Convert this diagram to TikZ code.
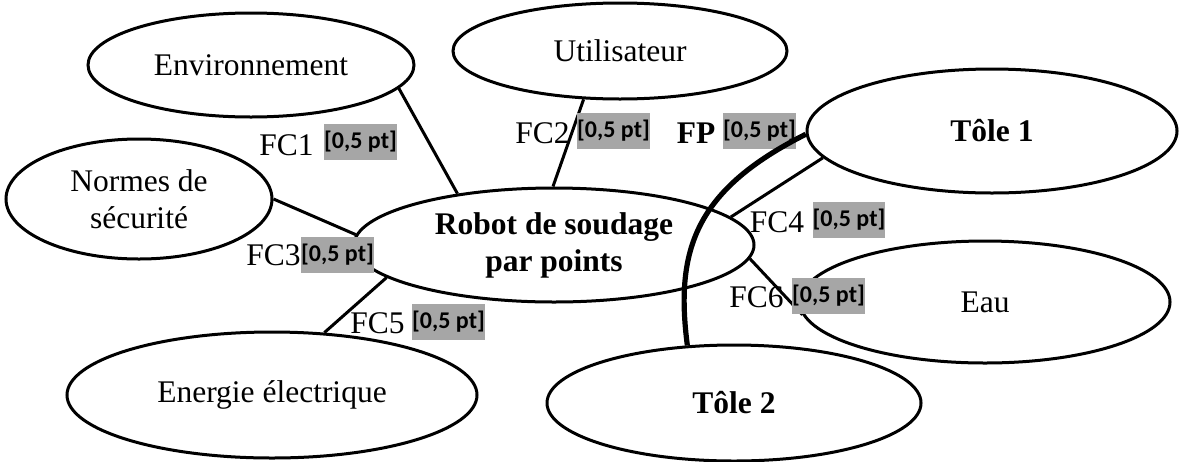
\documentclass[tikz,border=0pt]{standalone}
\usepackage{fontspec}
\setmainfont{Liberation Serif}
\newfontfamily\boxfont{Carlito}
\usetikzlibrary{shapes.geometric}
\definecolor{hlgray}{RGB}{166,166,166}
\begin{document}
\begin{tikzpicture}[x=0.5pt,y=-0.5pt,
  ell/.style={draw, ellipse, line width=1.5pt, inner sep=0pt, align=center,
              font=\fontsize{15.75}{18.5}\selectfont},
  bell/.style={ell, font=\fontsize{15.75}{18.5}\selectfont\bfseries},
  lnk/.style={line width=1.5pt},
  fplink/.style={line width=2.6pt},
  fclab/.style={inner sep=0pt, font=\fontsize{15.75}{18.5}\selectfont},
  pts/.style={fill=hlgray, inner xsep=0pt, inner ysep=0pt, minimum height=18pt,
              font=\boxfont\bfseries\fontsize{12}{14}\selectfont},
]
\useasboundingbox (0,0) rectangle (1181,461);

% ellipses
\node[ell,  minimum width=163pt, minimum height=52pt] (env)     at (251,65)  {Environnement};
\node[ell,  minimum width=167pt, minimum height=48pt] (util)    at (620,51)  {Utilisateur};
\node[bell, minimum width=185pt, minimum height=62pt] (tole1)   at (992,131) {Tôle 1};
\node[ell,  minimum width=133pt, minimum height=60pt] (normes)  at (139,199) {Normes de\\sécurité};
\node[bell, minimum width=200pt, minimum height=57pt] (robot)   at (554,245) {Robot de soudage\\par points};
\node[ell,  minimum width=185pt, minimum height=61pt] (eau)     at (985,302) {Eau};
\node[ell,  minimum width=205pt, minimum height=63pt] (energie) at (272,395) {Energie électrique};
\node[bell, minimum width=187pt, minimum height=58pt] (tole2)   at (734,403) {Tôle 2};

% connectors
\draw[lnk] (env.-9) -- (robot.152);
\draw[lnk] (util.233) -- (robot.91);
\draw[lnk] (normes.0) -- (robot.177);
\draw[lnk] (robot.191) -- (energie.50);
\draw[lnk] (tole1.189) -- (robot.9);
\draw[lnk] (robot.-4) -- (eau.184);

% labels
\node[fclab] (l1) at (286.5,145) {FC1};
\node[pts]   (p1) at (360.5,142) {[0,5 pt]};
\node[fclab] (l2) at (542.5,133) {FC2};
\node[pts]   (p2) at (613.5,131) {[0,5 pt]};
\node[fclab, font=\fontsize{15.75}{18.5}\selectfont\bfseries] (lfp) at (696,133) {FP};
\node[pts]   (pfp) at (759.5,131) {[0,5 pt]};
\node[fclab] (l3) at (273.5,255) {FC3};
\node[pts]   (p3) at (337.5,255) {[0,5 pt]};
\node[fclab] (l4) at (777,222) {FC4};
\node[pts]   (p4) at (849,220) {[0,5 pt]};
\node[fclab] (l5) at (377.5,323) {FC5};
\node[pts]   (p5) at (448.5,322) {[0,5 pt]};
\node[fclab] (l6) at (756.5,297) {FC6};
\node[pts]   (p6) at (828.5,296) {[0,5 pt]};

% principal function link
\draw[fplink] (tole1.181) .. controls (695,190) and (675,250) .. (tole2.129);
\end{tikzpicture}
\end{document}
